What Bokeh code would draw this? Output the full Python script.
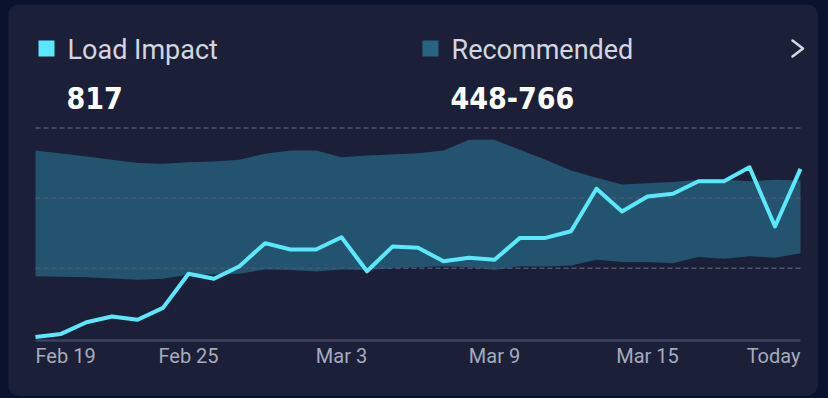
from bokeh.plotting import figure
from bokeh.models import ColumnDataSource, Range1d
from bokeh.core.properties import value
from bokeh.embed import file_html
from bokeh.resources import INLINE

# ---- data ----
day_index = list(range(31))
load_impact = [81, 95, 146, 171, 157, 209, 358, 336, 391, 492, 464, 464, 518, 369, 477, 472,
               413, 428, 419, 515, 515, 544, 730, 630, 696, 708, 763, 763, 824, 565, 817]
rec_upper = [897, 884, 871, 857, 843, 839, 846, 849, 857, 883, 897, 897, 868, 875, 880, 885,
             897, 944, 944, 900, 857, 810, 778, 749, 754, 759, 769, 769, 763, 769, 766]
rec_lower = [347, 345, 343, 337, 332, 336, 355, 355, 358, 377, 375, 368, 377, 375, 382, 387,
             391, 387, 375, 391, 390, 394, 419, 410, 409, 404, 431, 424, 435, 428, 448]
tick_index = [0, 6, 12, 18, 24, 30]
tick_labels = ["Feb 19", "Feb 25", "Mar 3", "Mar 9", "Mar 15", "Today"]
tick_align = ["left", "center", "center", "center", "center", "right"]
grid_values = [382, 689, 996]
axis_base = 66
legend_names = ["Load Impact", "Recommended"]
legend_values = ["817", "448-766"]

CARD = "#1b2038"
OUTER = "#0a122d"
BAND = "#23536e"
LINE = "#5ae9fc"
TEXT = "#d3d6e0"
TICK = "#a6abbd"

# ---- layout: figure sits at page (8,4); its frame fills it ----
FIG_X, FIG_Y, W, H = 8, 4, 810, 392
X0_PAGE, X_STEP = 35.0, 25.5          # page x of index 0, px per day
Y_REF_PAGE, Y_REF_VAL, Y_SCALE = 180.0, 766.0, 4.374  # value units per px


def px(xp):
    return (xp - X0_PAGE) / X_STEP


def py(yp):
    return Y_REF_VAL + (Y_REF_PAGE - yp) * Y_SCALE


p = figure(width=W, height=H, output_backend="svg", toolbar_location=None,
           x_range=Range1d(px(FIG_X), px(FIG_X + W)), y_range=Range1d(py(FIG_Y + H), py(FIG_Y)),
           min_border=0, background_fill_color=CARD, border_fill_color=CARD,
           styles={"margin": "%dpx 0 0 %dpx" % (FIG_Y, FIG_X), "border-radius": "12px",
                   "overflow": "hidden"})
p.outline_line_color = None
p.axis.visible = False
p.grid.visible = False

src = ColumnDataSource(dict(x=day_index, load=load_impact, up=rec_upper, lo=rec_lower))
p.varea(x="x", y1="lo", y2="up", source=src, fill_color=BAND)

# dashed reference lines and baseline axis
n = len(grid_values)
p.segment(x0=[day_index[0]] * n, x1=[day_index[-1]] * n, y0=grid_values, y1=grid_values,
          line_color="#4c5472", line_width=1.5, line_dash="5 3")
p.segment(x0=[day_index[0]], x1=[day_index[-1]], y0=[axis_base], y1=[axis_base],
          line_color="#3c4262", line_width=2.5)

p.line(x="x", y="load", source=src, line_color=LINE, line_width=4, line_join="round")

# x tick labels
tsrc = ColumnDataSource(dict(x=tick_index, y=[py(355.2)] * len(tick_index),
                             text=tick_labels, align=tick_align))
p.text(x="x", y="y", text="text", text_align="align", source=tsrc,
       text_baseline="alphabetic", text_color=TICK,
       text_font=value("Roboto"), text_font_size="20px")

# header legend
sq_colors = [LINE, "#2a6284"]
dx = [0, 384]
p.quad(left=[px(38 + d) for d in dx], right=[px(54 + d) for d in dx],
       top=[py(40)] * 2, bottom=[py(56)] * 2, fill_color=sq_colors, line_color=None)
p.text(x=[px(67 + d) for d in dx], y=[py(49)] * 2, text=legend_names,
       text_baseline="alphabetic", text_color=TEXT,
       text_font=value("Roboto"), text_font_size="27px")
p.text(x=[px(66 + d) for d in dx], y=[py(97.5)] * 2, text=legend_values,
       text_baseline="alphabetic", text_color="#ffffff", text_font_style="bold",
       text_font=value("DejaVu Sans Condensed"), text_font_size="30px")
# chevron icon
p.line(x=[px(792), px(802.5), px(792)], y=[py(40), py(48), py(56)],
       line_color=TEXT, line_width=2.5, line_cap="round", line_join="round")

html = file_html(p, INLINE)
html = html.replace("<head>", "<head><style>html, body { background: %s !important; }</style>" % OUTER, 1)
open("out.html", "w").write(html)
